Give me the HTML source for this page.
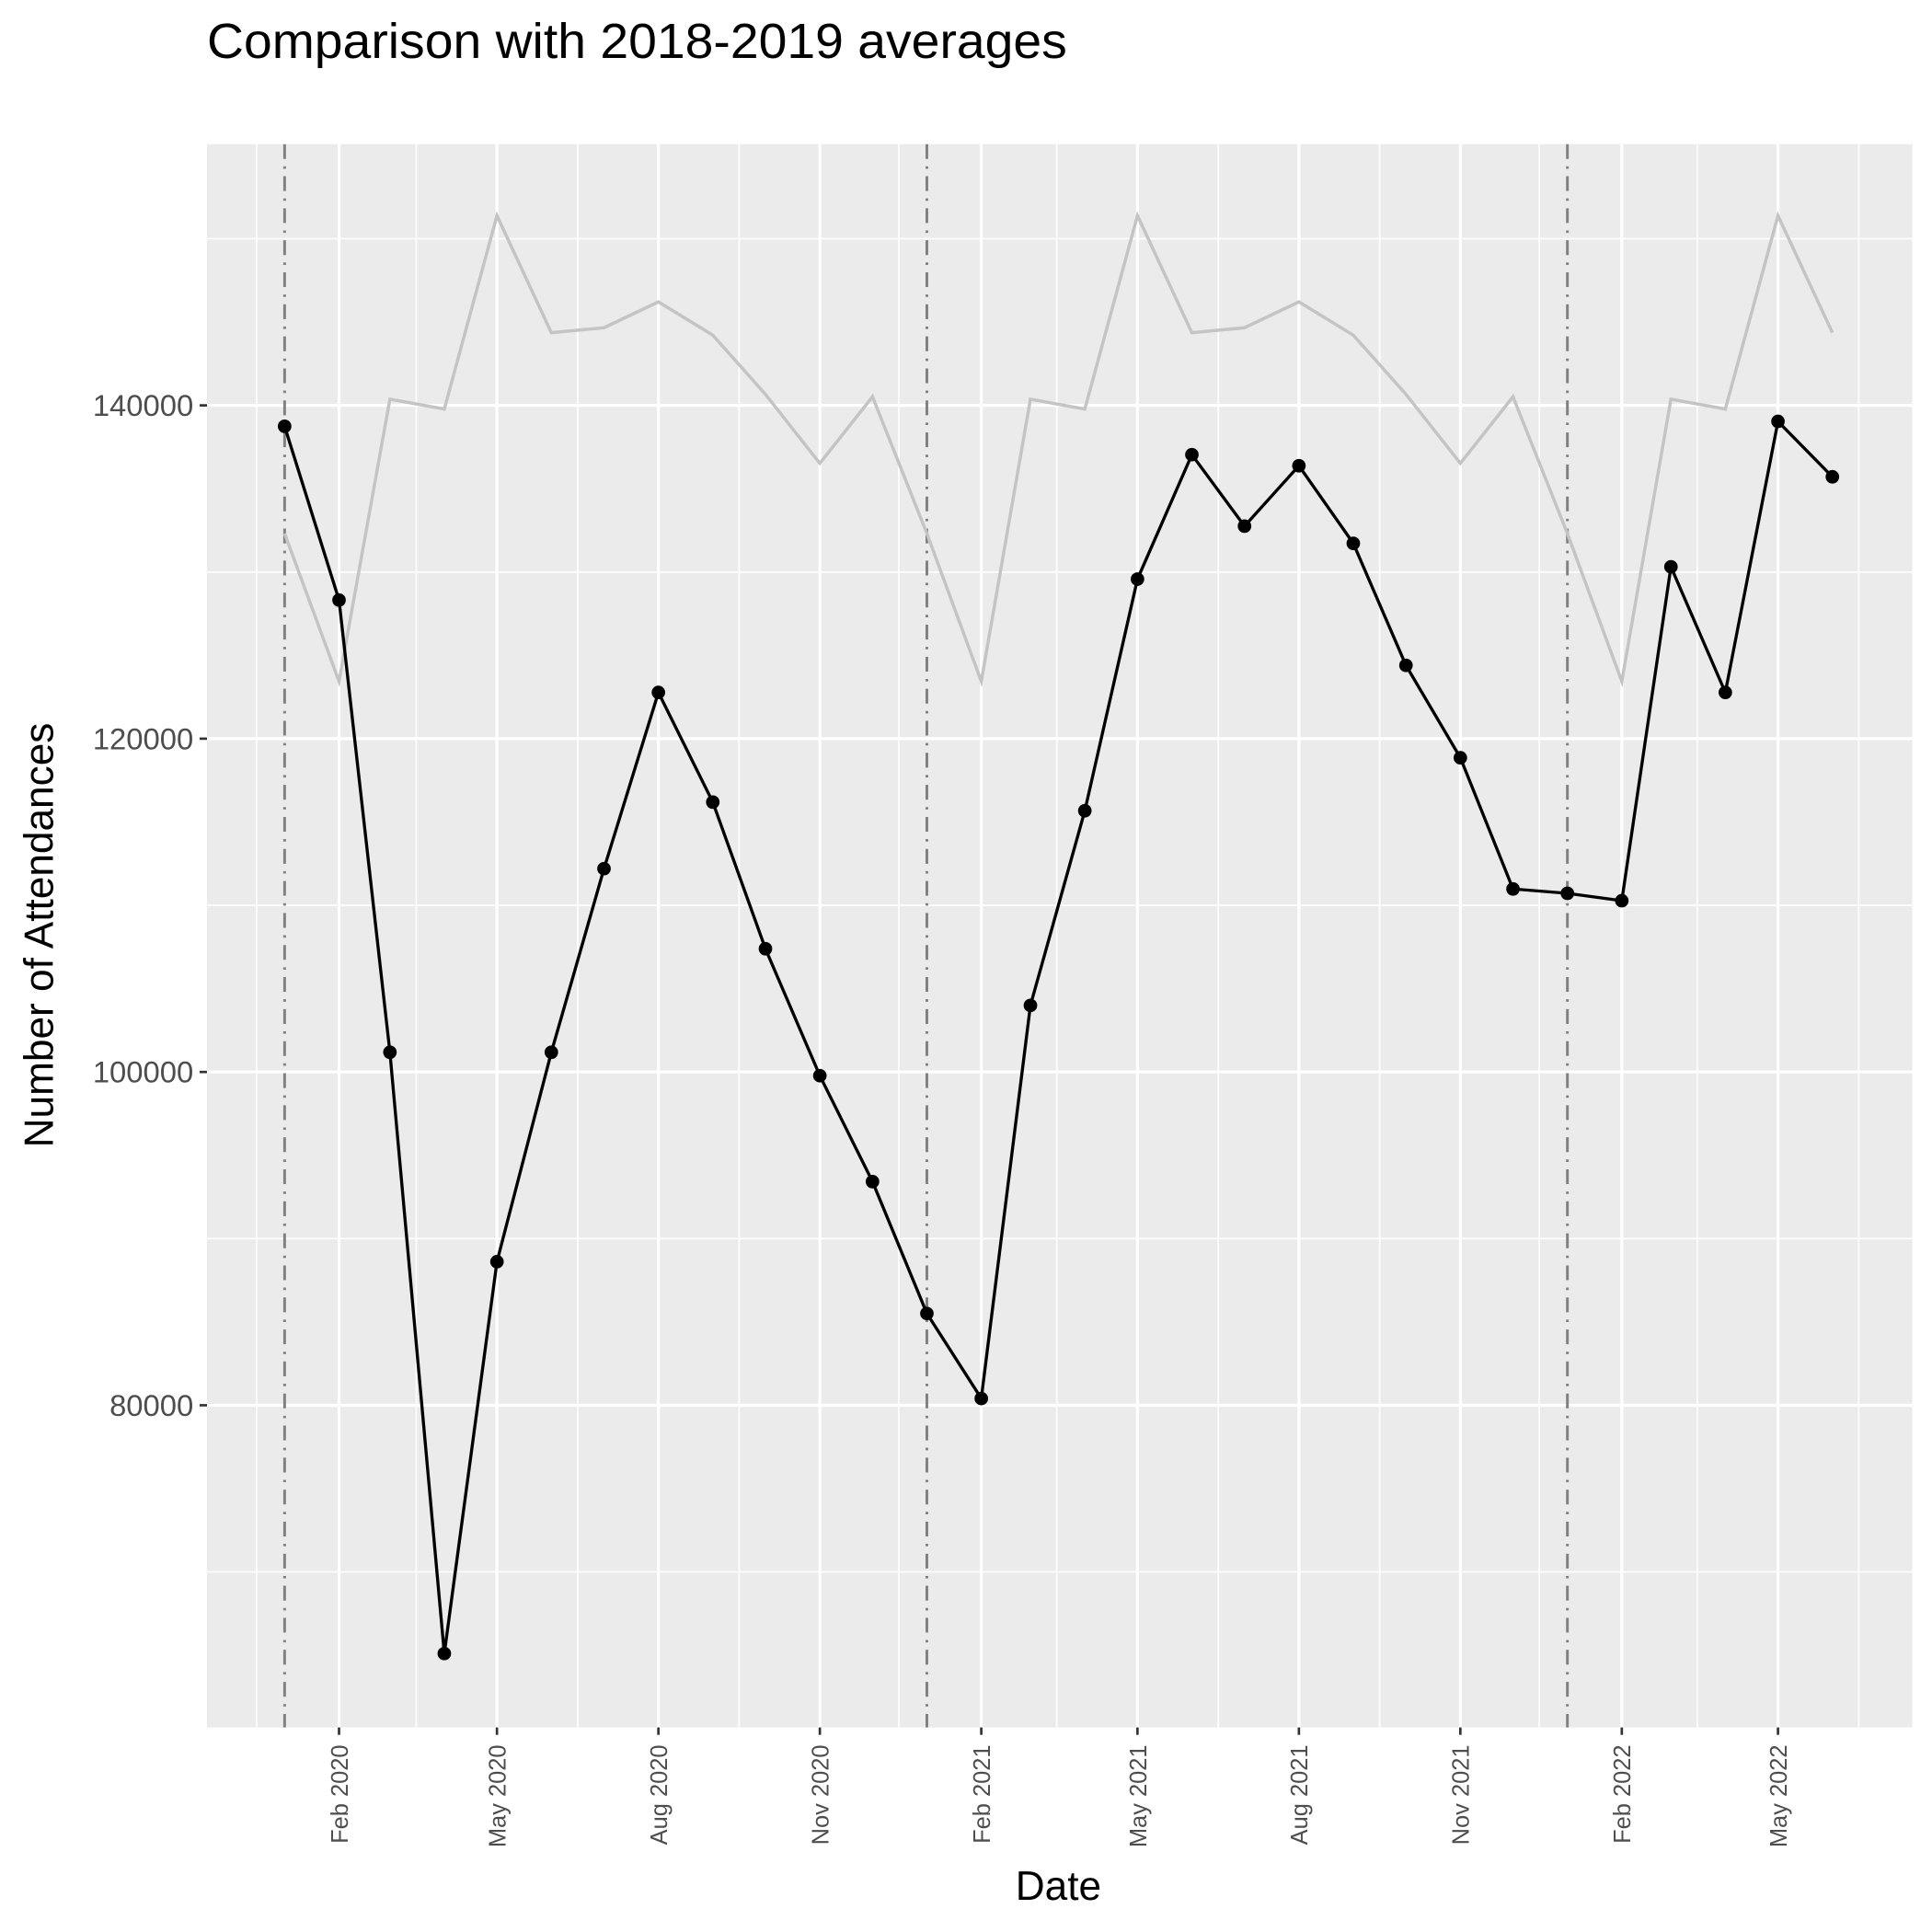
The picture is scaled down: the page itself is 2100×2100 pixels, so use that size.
<!DOCTYPE html>
<html><head><meta charset="utf-8"><style>
html,body{margin:0;padding:0;background:#fff;}
svg{display:block;font-family:"Liberation Sans",Arial,sans-serif;}
</style></head><body>
<svg id="chart" width="2100" height="2100" viewBox="0 0 1568 1568" xmlns="http://www.w3.org/2000/svg">
<rect width="1568" height="1568" fill="#fff"/>
<text x="168" y="47" font-size="40" fill="#000" textLength="698" lengthAdjust="spacingAndGlyphs">Comparison with 2018-2019 averages</text>
<rect x="168" y="117" width="1384" height="1285" fill="#ebebeb"/>
<g id="grid"></g>
<g id="vlines"></g>
<g id="series"></g>
<g id="axes"></g>
<text x="859" y="1542" font-size="33" text-anchor="middle" fill="#000">Date</text>
<text transform="translate(43,759) rotate(-90)" font-size="33" text-anchor="middle" fill="#000">Number of Attendances</text>
</svg>
<script>
const months = ["2020-01","2020-02","2020-03","2020-04","2020-05","2020-06","2020-07","2020-08","2020-09","2020-10","2020-11","2020-12","2021-01","2021-02","2021-03","2021-04","2021-05","2021-06","2021-07","2021-08","2021-09","2021-10","2021-11","2021-12","2022-01","2022-02","2022-03","2022-04","2022-05","2022-06"];
const attendances = [138743,128318,101183,65102,88614,101183,112200,122773,116192,107394,99778,93420,85508,80407,103993,115675,129575,137043,132754,136377,131719,124399,118854,110983,110721,110277,130314,122773,139039,135712];
const avgByMonth = [132311,123438,140370,139778,151386,144362,144658,146211,144214,140665,136525,140518];
const yTicks = [80000,100000,120000,140000];
const yMinor = [70000,90000,110000,130000,150000];
const xTicks = ["2020-02","2020-05","2020-08","2020-11","2021-02","2021-05","2021-08","2021-11","2022-02","2022-05"];
const xTickLabels = ["Feb 2020","May 2020","Aug 2020","Nov 2020","Feb 2021","May 2021","Aug 2021","Nov 2021","Feb 2022","May 2022"];
const xMinor = ["2019-12-16","2020-03-16","2020-06-16","2020-09-16","2020-12-16","2021-03-16","2021-06-16","2021-09-16","2021-12-16","2022-03-16","2022-06-16"];
const yearMarks = ["2020-01","2021-01","2022-01"];

const NS = "http://www.w3.org/2000/svg";
const t0 = Date.UTC(2020,0,1);
function toDate(s){const p=s.split("-");return Date.UTC(+p[0],+p[1]-1,p[2]?+p[2]:1);}
function xs(s){return 231 + (toDate(s)-t0)/86400000*(1212/851);}
function ys(v){return 329 + (140000-v)/20000*270.5;}
function mk(tag, attrs, parent){const e=document.createElementNS(NS,tag);for(const k in attrs)e.setAttribute(k,attrs[k]);parent.appendChild(e);return e;}
const grid=document.getElementById("grid"), vl=document.getElementById("vlines"), ser=document.getElementById("series"), ax=document.getElementById("axes");

yMinor.forEach(v=>{const l=mk("line",{x1:168,x2:1552,y1:ys(v),y2:ys(v),stroke:"#fff","stroke-width":1.2},grid);

});
xMinor.forEach(d=>{const l=mk("line",{x1:xs(d),x2:xs(d),y1:117,y2:1402,stroke:"#fff","stroke-width":1.2},grid);

});
yTicks.forEach(v=>{const y=ys(v);
const l=mk("line",{x1:168,x2:1552,y1:y,y2:y,stroke:"#fff","stroke-width":2.4},grid);


const tk=mk("line",{x1:162,x2:168,y1:y,y2:y,stroke:"#333","stroke-width":2},ax);


const t=mk("text",{x:157,y:y+8.5,"font-size":24.5,"text-anchor":"end",fill:"#4d4d4d"},ax);t.textContent=v;

});
xTicks.forEach((d,i)=>{const x=xs(d);
const l=mk("line",{x1:x,x2:x,y1:117,y2:1402,stroke:"#fff","stroke-width":2.4},grid);


const tk=mk("line",{x1:x,x2:x,y1:1402,y2:1408,stroke:"#333","stroke-width":2},ax);


const t=mk("text",{transform:`translate(${x+7},1416) rotate(-90)`,"font-size":19,"text-anchor":"end",fill:"#4d4d4d"},ax);t.textContent=xTickLabels[i];

});
yearMarks.forEach(d=>{const l=mk("line",{x1:xs(d),x2:xs(d),y1:117,y2:1402,stroke:"#808080","stroke-width":2.2,"stroke-dasharray":"12 6 2 6"},vl);

});

const gp=months.map(m=>xs(m)+","+ys(avgByMonth[+m.split("-")[1]-1])).join(" ");
const g=mk("polyline",{points:gp,fill:"none",stroke:"#c4c4c4","stroke-width":2.6},ser);


const bp=months.map((m,i)=>xs(m)+","+ys(attendances[i])).join(" ");
const b=mk("polyline",{points:bp,fill:"none",stroke:"#000","stroke-width":2.5},ser);


months.forEach((m,i)=>{const c=mk("circle",{cx:xs(m),cy:ys(attendances[i]),r:5.5,fill:"#000"},ser);

});
</script>
</body></html>
